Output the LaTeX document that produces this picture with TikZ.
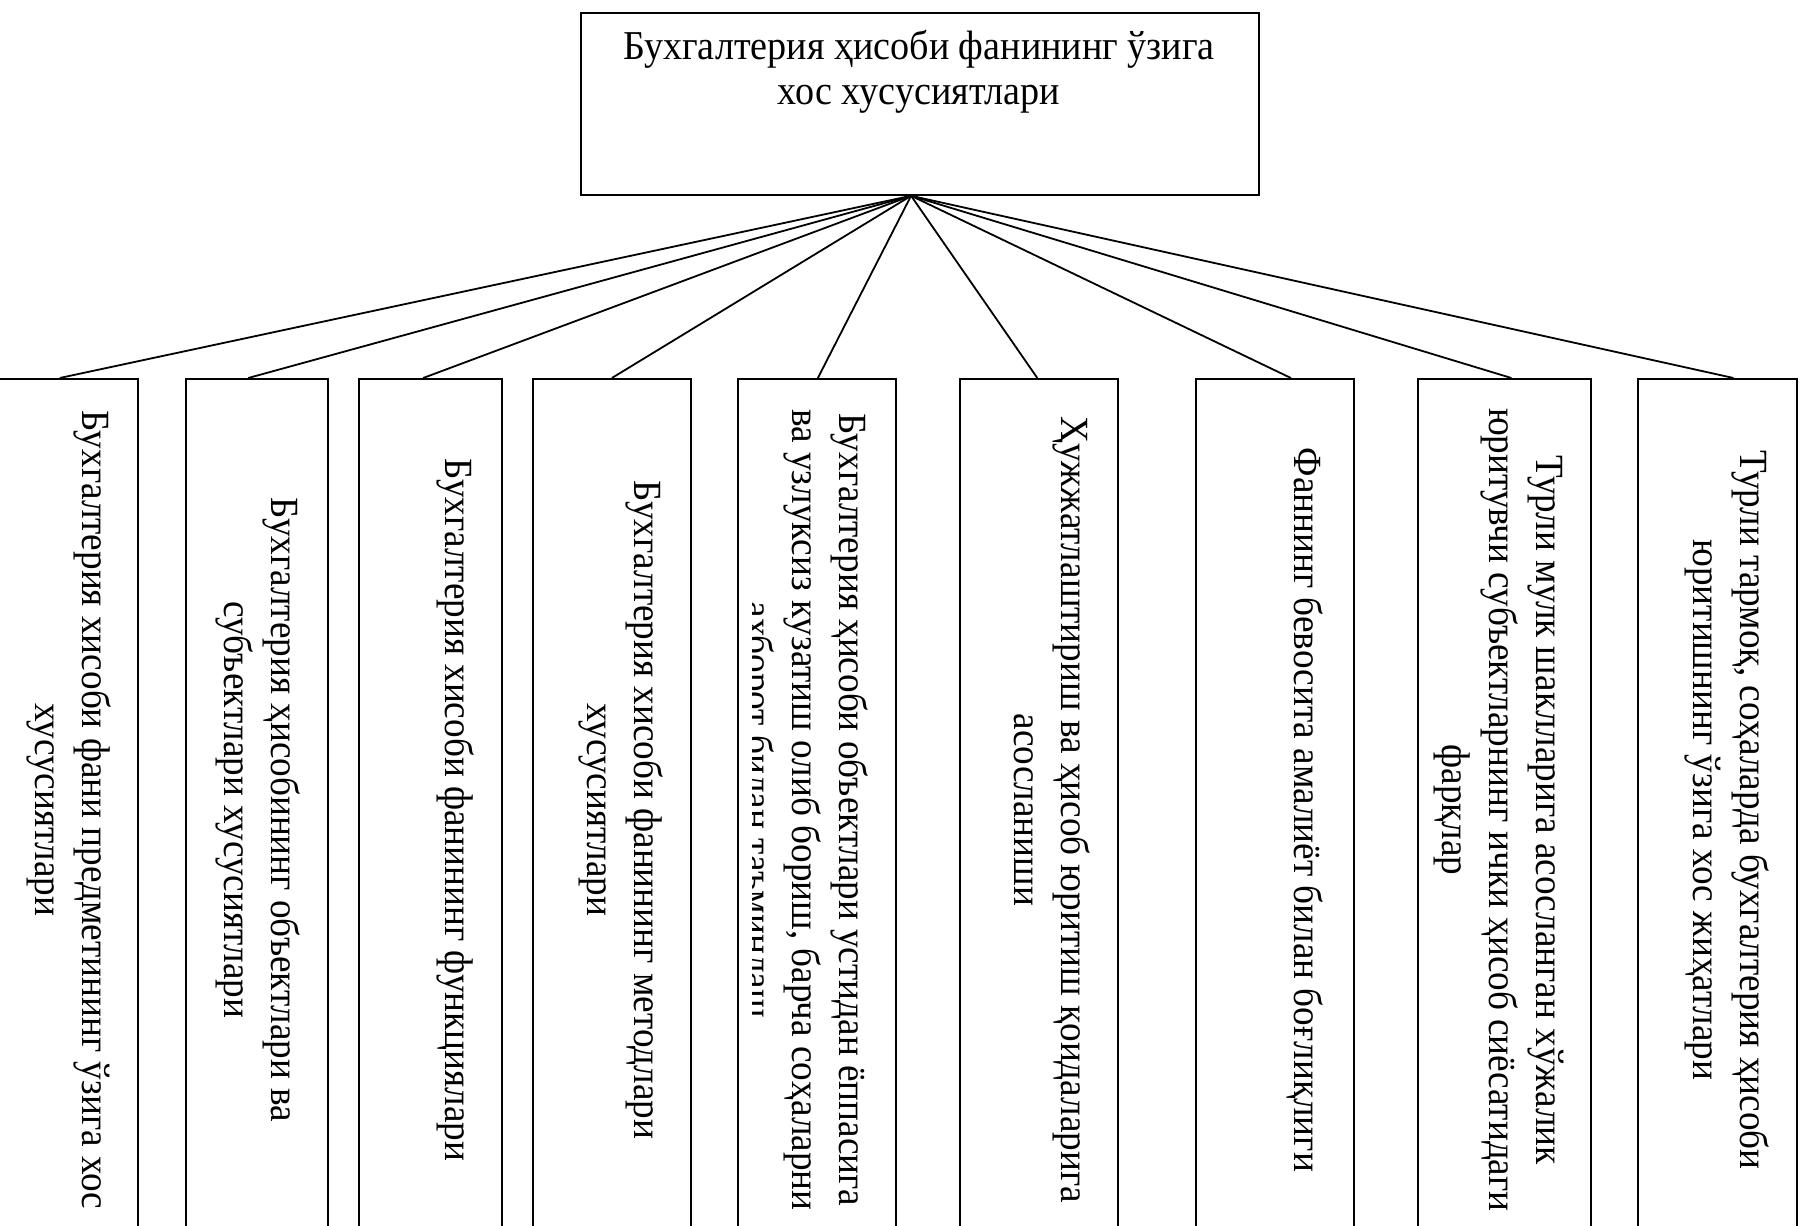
\documentclass[tikz,border=0pt]{standalone}
\usepackage{fontspec}
\setmainfont{Liberation Serif}[FakeStretch=0.93]
\usetikzlibrary{calc}
\begin{document}
\begin{tikzpicture}[x=1pt,y=-1pt,
  box/.style={draw, line width=1.8pt, inner sep=0pt},
  toptext/.style={align=center, inner sep=0pt, font=\fontsize{41}{45}\selectfont},
  rtext/.style={rotate=-90, align=center, inner sep=0pt, anchor=north, font=\fontsize{40}{47}\selectfont},
  conn/.style={line width=1.8pt}]
\clip (0,0) rectangle (1807,1226);
\fill[white] (0,0) rectangle (1807,1226);
% top box
\node[box, minimum width=678pt, minimum height=182pt, anchor=north west] (top) at (580,12) {};
\node[toptext, anchor=north] (toptitle) at (919,30) {Бухгалтерия ҳисоби фанининг ўзига\\хос хусусиятлари};
% bottom boxes
\node[box, minimum width=142pt, minimum height=862pt, anchor=north west] (b1) at (-5,378) {};
\node[box, minimum width=142pt, minimum height=862pt, anchor=north west] (b2) at (185,378) {};
\node[box, minimum width=143pt, minimum height=862pt, anchor=north west] (b3) at (358,378) {};
\node[box, minimum width=158pt, minimum height=862pt, anchor=north west] (b4) at (532,378) {};
\node[box, minimum width=158pt, minimum height=862pt, anchor=north west] (b5) at (737,378) {};
\node[box, minimum width=158pt, minimum height=862pt, anchor=north west] (b6) at (959,378) {};
\node[box, minimum width=158pt, minimum height=862pt, anchor=north west] (b7) at (1195,378) {};
\node[box, minimum width=173pt, minimum height=862pt, anchor=north west] (b8) at (1417,378) {};
\node[box, minimum width=159pt, minimum height=862pt, anchor=north west] (b9) at (1637,378) {};
% texts
\node[rtext] (t1) at ([xshift=-27pt]b1.east) {Бухгалтерия хисоби фани предметининг ўзига хос\\хусусиятлари};
\node[rtext] (t2) at ([xshift=-28pt]b2.east) {Бухгалтерия ҳисобининг объектлари ва\\субъектлари хусусиятлари};
\node[rtext] (t3) at ([xshift=-28pt]b3.east) {Бухгалтерия хисоби фанининг функциялари};
\node[rtext] (t4) at ([xshift=-28pt]b4.east) {Бухгалтерия хисоби фанининг методлари\\хусусиятлари};
\begin{scope}
\clip (752,0) rectangle (1807,1226);
\node[rtext] (t5) at ([xshift=-28pt]b5.east) {Бухгалтерия ҳисоби объектлари устидан ёппасига\\ва узлуксиз кузатиш олиб бориш, барча соҳаларни\\ахборот билан таъминлаш};
\end{scope}
\node[rtext] (t6) at ([xshift=-28pt]b6.east) {Ҳужжатлаштириш ва ҳисоб юритиш қоидаларига\\асосланиши};
\node[rtext] (t7) at ([xshift=-31pt]b7.east) {Фаннинг бевосита амалиёт билан боғлиқлиги};
\node[rtext] (t8) at ([xshift=-28pt]b8.east) {Турли мулк шаклларига асосланган хўжалик\\юритувчи субъектларнинг ички ҳисоб сиёсатидаги\\фарқлар};
\node[rtext] (t9) at ([xshift=-28pt]b9.east) {Турли тармоқ, соҳаларда бухгалтерия ҳисоби\\юритишнинг ўзига хос жиҳатлари};
% connectors
\coordinate (apex) at ($(top.south west)!0.487!(top.south east)$);
\draw[conn] (apex) -- ($(b1.north west)!0.45!(b1.north east)$);
\draw[conn] (apex) -- ($(b2.north west)!0.44!(b2.north east)$);
\draw[conn] (apex) -- ($(b3.north west)!0.45!(b3.north east)$);
\draw[conn] (apex) -- ($(b4.north west)!0.50!(b4.north east)$);
\draw[conn] (apex) -- ($(b5.north west)!0.506!(b5.north east)$);
\draw[conn] (apex) -- ($(b6.north west)!0.49!(b6.north east)$);
\draw[conn] (apex) -- ($(b7.north west)!0.60!(b7.north east)$);
\draw[conn] (apex) -- ($(b8.north west)!0.54!(b8.north east)$);
\draw[conn] (apex) -- ($(b9.north west)!0.60!(b9.north east)$);
\end{tikzpicture}
\end{document}
